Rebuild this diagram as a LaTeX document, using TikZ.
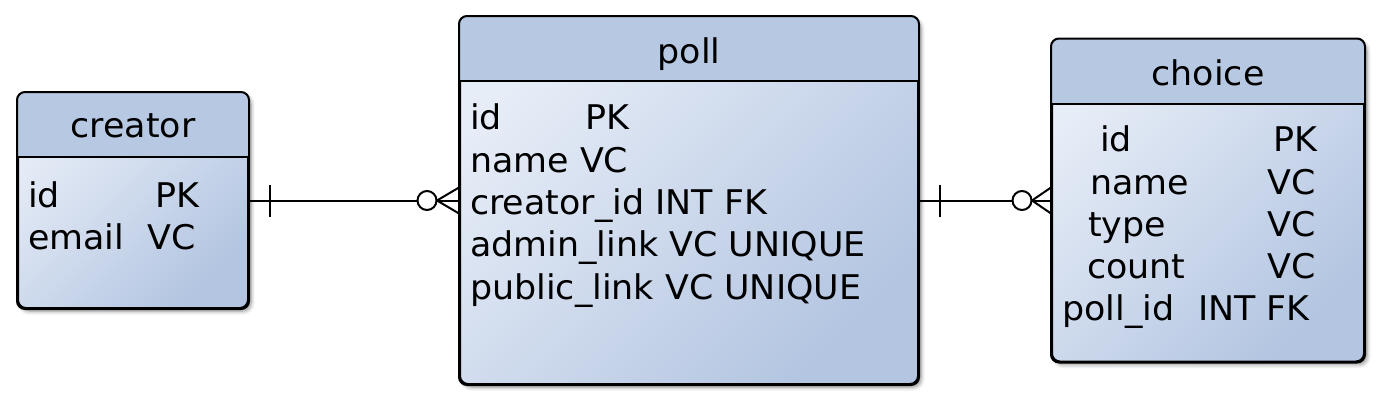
\documentclass[tikz,border=0pt]{standalone}
\usepackage{fontspec}
\setmainfont{DejaVu Sans}[FakeStretch=1.025]
\usetikzlibrary{shadows.blur}
\definecolor{hdr}{HTML}{B7C8E2}
\definecolor{bodyA}{HTML}{E7EDF7}
\definecolor{bodyB}{HTML}{B3C5E1}
\tikzset{
  entity/.style={draw=black, line width=2pt, rounded corners=8pt,
    top color=bodyA, bottom color=bodyB, shading angle=45,
    blur shadow={shadow xshift=3pt, shadow yshift=-3pt, shadow blur radius=4pt,
      shadow blur steps=6, shadow opacity=45},
    inner sep=0pt},
  conn/.style={line width=2pt, draw=black},
  txt/.style={font=\fontsize{34}{40}\selectfont, inner sep=0pt, anchor=base west},
  ttl/.style={font=\fontsize{34}{40}\selectfont, inner sep=0pt, anchor=base},
  txtr/.style={font=\fontsize{34}{40}\selectfont, inner sep=0pt, anchor=base east}
}
\newcommand\entheader[1]{%
  \begin{scope}
    \clip[rounded corners=8pt] (#1.north west) rectangle (#1.south east);
    \fill[hdr] (#1.north west) rectangle ([yshift=-65pt]#1.north east);
  \end{scope}
  \draw[line width=2pt] ([yshift=-65pt]#1.north west) -- ([yshift=-65pt]#1.north east);
  \draw[line width=2pt, rounded corners=8pt] (#1.north west) rectangle (#1.south east);}
\begin{document}
\begin{tikzpicture}[x=1pt, y=-1pt]
\useasboundingbox (0,0) rectangle (1382,402);
% entities
\node[entity, minimum width=230pt, minimum height=215pt] (creator) at (133,200.5) {};
\node[entity, minimum width=458pt, minimum height=367pt] (poll) at (689,200.5) {};
\node[entity, minimum width=312pt, minimum height=322pt] (choice) at (1208,200.5) {};
\entheader{creator}
\entheader{poll}
\entheader{choice}
% creator text
\node[ttl] (creatorT) at (133,137) {creator};
\node[txt] (c1a) at (28,207) {id};
\node[txt] (c1b) at (155,207) {PK};
\node[txt] (c2a) at (28,249) {email};
\node[txt] (c2b) at (147,249) {VC};
% poll text
\node[ttl] (pollT) at (689,63) {poll};
\node[txt] (p1a) at (470,129) {id};
\node[txt] (p1b) at (585,129) {PK};
\node[txt] (p2) at (470,172) {name VC};
\node[txt] (p3) at (470,214) {creator\_id INT FK};
\node[txt] (p4) at (470,256) {admin\_link VC UNIQUE};
\node[txt] (p5) at (470,299) {public\_link VC UNIQUE};
% choice text
\node[ttl] (choiceT) at (1208,85) {choice};
\node[txt] (h1a) at (1100,151) {id};
\node[txtr] (h1b) at (1318,151) {PK};
\node[txt] (h2a) at (1090,194) {name};
\node[txtr] (h2b) at (1316,194) {VC};
\node[txt] (h3a) at (1088,236) {type};
\node[txtr] (h3b) at (1316,236) {VC};
\node[txt] (h4a) at (1087,278) {count};
\node[txtr] (h4b) at (1316,278) {VC};
\node[txt] (h5a) at (1062,320) {poll\_id};
\node[txtr] (h5b) at (1310,320) {INT FK};
% connector creator -- poll
\draw[conn] (creator.east) -- (poll.west);
\draw[conn] ([xshift=21pt,yshift=16pt]creator.east) -- ([xshift=21pt,yshift=-16pt]creator.east);
\draw[conn] ([yshift=13pt]poll.west) -- ([xshift=-22pt]poll.west) -- ([yshift=-13pt]poll.west);
\draw[conn, fill=white] ([xshift=-32pt]poll.west) circle (9.5pt);
% connector poll -- choice
\draw[conn] (poll.east) -- (choice.west);
\draw[conn] ([xshift=21pt,yshift=16pt]poll.east) -- ([xshift=21pt,yshift=-16pt]poll.east);
\draw[conn] ([yshift=13pt]choice.west) -- ([xshift=-19pt]choice.west) -- ([yshift=-13pt]choice.west);
\draw[conn, fill=white] ([xshift=-29pt]choice.west) circle (9.5pt);
\end{tikzpicture}
\end{document}
